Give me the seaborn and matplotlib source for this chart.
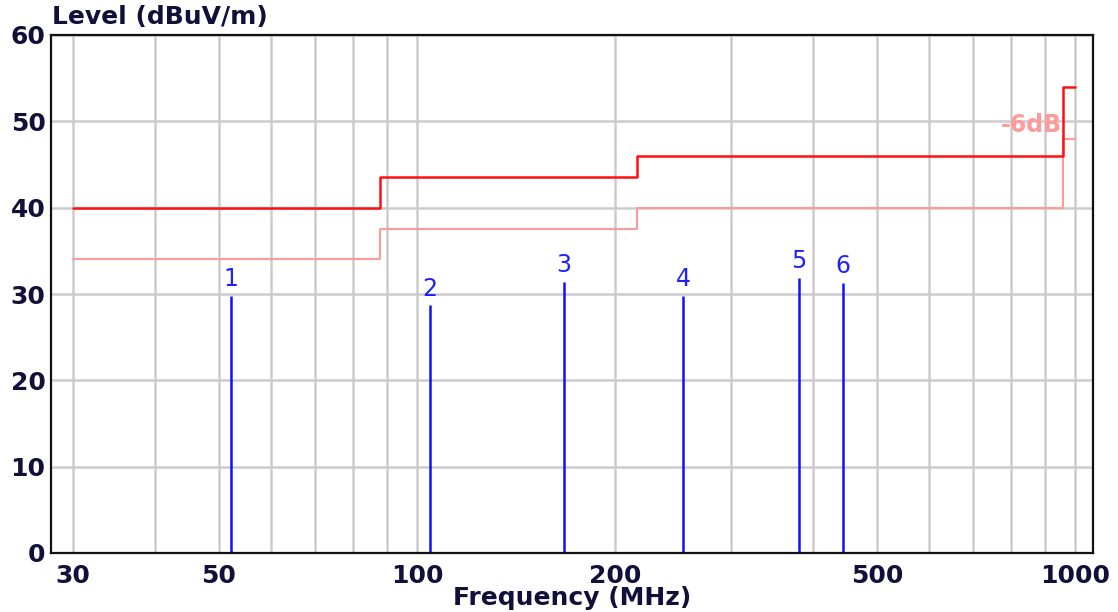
import numpy as np
import pandas as pd
import seaborn as sns
import matplotlib.pyplot as plt
from matplotlib.ticker import NullFormatter

# limit line (class B style) and the -6dB margin line
limit_freq = [30, 88, 216, 960, 1000]
limit_level = [40, 43.5, 46, 54, 54]
margin_level = [34, 37.5, 40, 48, 48]

# measured peaks
peak_no = ['1', '2', '3', '4', '5', '6']
peak_freq = [52.2, 104.7, 167.3, 253.7, 380.6, 444.1]
peak_level = [29.8, 28.7, 31.4, 29.8, 31.9, 31.3]

xticks = [30, 50, 100, 200, 500, 1000]
xminor = [40, 60, 70, 80, 90, 300, 400, 600, 700, 800, 900]
yticks = [0, 10, 20, 30, 40, 50, 60]

sns.set_style('white')
plt.rcParams['font.family'] = ['DejaVu Sans']
txt_col = '#10103a'

df_lim = pd.DataFrame({'Frequency': limit_freq, 'Limit': limit_level, 'Margin': margin_level})
df_peak = pd.DataFrame({'no': peak_no, 'Frequency': peak_freq, 'Level': peak_level})

fig = plt.figure(figsize=(11.18, 6.12), dpi=100)
ax = fig.add_axes([51 / 1118, 1 - 553 / 612, (1093 - 51) / 1118, (553 - 35) / 612])

sns.lineplot(data=df_lim, x='Frequency', y='Margin', color='#ff9a9a', lw=1.5,
             drawstyle='steps-post', estimator=None, sort=False, legend=False, ax=ax)
sns.lineplot(data=df_lim, x='Frequency', y='Limit', color='#ff1010', lw=1.8,
             drawstyle='steps-post', estimator=None, sort=False, legend=False, ax=ax)

ax.vlines(df_peak['Frequency'], 0, df_peak['Level'], color='#1010ff', lw=1.8)
for n, f, v in zip(df_peak['no'], df_peak['Frequency'], df_peak['Level']):
    ax.text(f, v + 1.1, n, color='#2020ff', fontsize=17, ha='center', va='baseline')

ax.text(955, 49.6, '-6dB', color='#ff9a9a', fontsize=17, fontweight='bold',
        ha='right', va='center')

ax.set_xscale('log')
ax.set_xlim(27.8, 1065)
ax.set_ylim(0, 60)
ax.set_xticks(xticks, [str(t) for t in xticks])
ax.set_xticks(xminor, minor=True)
ax.xaxis.set_minor_formatter(NullFormatter())
ax.set_yticks(yticks, [str(t) for t in yticks])
ax.tick_params(which='both', length=0, labelsize=18, labelcolor=txt_col)
ax.tick_params(axis='x', pad=8)
ax.tick_params(axis='y', pad=4)
for lab in ax.get_xticklabels() + ax.get_yticklabels():
    lab.set_fontweight('bold')

ax.grid(axis='x', which='both', color='#cccccc', lw=1.8)
ax.grid(axis='y', which='major', color='#cccccc', lw=1.8)
ax.set_axisbelow(True)
for s in ax.spines.values():
    s.set_color('#111111')
    s.set_linewidth(1.6)

ax.set_xlabel('Frequency (MHz)', fontsize=18, fontweight='bold', color=txt_col, va='top')
ax.xaxis.set_label_coords(0.5, -0.064)
ax.set_ylabel('')
fig.text(52 / 1118, 1 - 17 / 612, 'Level (dBuV/m)', fontsize=18, fontweight='bold',
         color=txt_col, ha='left', va='center')

fig.savefig('out.png', dpi=100)
